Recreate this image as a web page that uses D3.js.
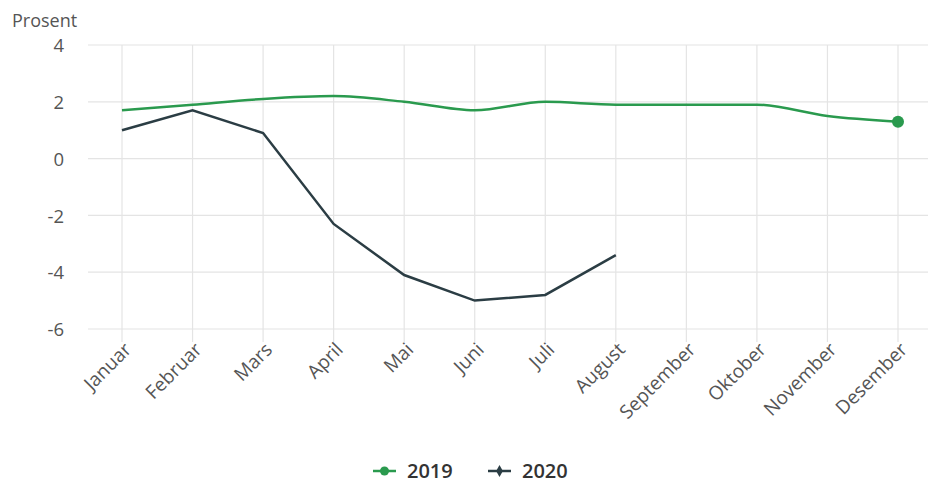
<!DOCTYPE html>
<html><head><meta charset="utf-8">
<script src="https://cdn.jsdelivr.net/npm/d3@7"></script>
<style>body{margin:0;background:#fff;font-family:"Open Sans",sans-serif;}</style>
</head><body><svg id="c" width="931" height="489"></svg>
<script>
const months = ["Januar","Februar","Mars","April","Mai","Juni","Juli","August","September","Oktober","November","Desember"];
const y2019 = [1.7,1.9,2.1,2.2,2.0,1.7,2.0,1.9,1.9,1.9,1.5,1.3];
const y2020 = [1.0,1.7,0.9,-2.3,-4.1,-5.0,-4.8,-3.4];
const yTicks = [4,2,0,-2,-4,-6];
const seriesNames = ["2019","2020"];
const colors = ["#2a9a4e","#2b3d44"];

const svg = d3.select("#c");
const x = d3.scalePoint().domain(months).range([122,898]);
const y = d3.scaleLinear().domain([-6,4]).range([329,45]);

svg.append("g").selectAll("line").data(yTicks).join("line")
  .attr("x1",88).attr("x2",928).attr("y1",d=>y(d)).attr("y2",d=>y(d))
  .attr("stroke","#e4e4e4").attr("stroke-width",1.2);
svg.append("g").selectAll("line").data(months).join("line")
  .attr("x1",d=>x(d)).attr("x2",d=>x(d)).attr("y1",y(4)).attr("y2",y(-6)+13)
  .attr("stroke","#e4e4e4").attr("stroke-width",1.2);

const yAxis = d3.axisLeft(y).tickValues(yTicks).tickSize(0).tickPadding(0).tickFormat(d=>String(d).replace("\u2212","-"));
const ga = svg.append("g").attr("transform","translate(64,0)").call(yAxis);
ga.select(".domain").remove();
ga.selectAll("text").attr("font-size",18.5).attr("fill","#555").attr("font-family","Open Sans").attr("dy","0.36em");

svg.append("text").attr("x",12).attr("y",27).text("Prosent")
  .attr("font-size",18).attr("fill","#555");

const xAxis = d3.axisBottom(x).tickSize(0).tickPadding(0);
const gx = svg.append("g").attr("transform",`translate(0,${y(-6)+19})`).call(xAxis);
gx.select(".domain").remove();
gx.selectAll("text").attr("font-size",19).attr("fill","#555").attr("font-family","Open Sans")
  .attr("text-anchor","end").attr("dy",0).attr("y",0)
  .attr("transform","rotate(-45) translate(5,9)");

const line = d3.line().x((d,i)=>x(months[i])).y(d=>y(d)).curve(d3.curveMonotoneX);
svg.append("path").datum(y2019).attr("d",line).attr("fill","none")
  .attr("stroke",colors[0]).attr("stroke-width",2.5);
svg.append("path").datum(y2020).attr("d",d3.line().x((d,i)=>x(months[i])).y(d=>y(d)))
  .attr("fill","none").attr("stroke",colors[1]).attr("stroke-width",2.5);
svg.append("circle").attr("cx",x(months[11])).attr("cy",y(y2019[11])).attr("r",6).attr("fill",colors[0]);

const lg = svg.append("g");
const lx = [373,488];
seriesNames.forEach((s,i)=>{
  lg.append("line").attr("x1",lx[i]).attr("x2",lx[i]+23).attr("y1",471).attr("y2",471)
    .attr("stroke",colors[i]).attr("stroke-width",2.5);
  if(i===0) lg.append("circle").attr("cx",lx[i]+11.5).attr("cy",471).attr("r",4.5).attr("fill",colors[i]);
  else lg.append("path").attr("d",d3.symbol(d3.symbolDiamond,40)()).attr("transform",`translate(${lx[i]+11.5},471)`).attr("fill",colors[i]);
  lg.append("text").attr("x",lx[i]+34).attr("y",478).text(s).attr("font-size",20)
    .attr("font-weight",600).attr("fill","#333");
});
</script></body></html>
